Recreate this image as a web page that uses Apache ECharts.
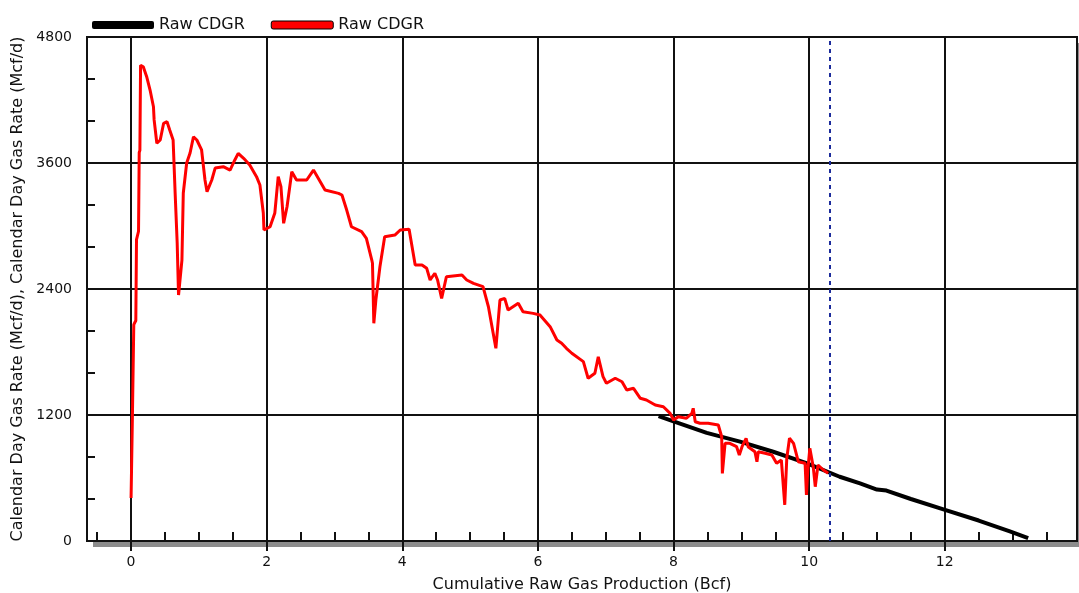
<!DOCTYPE html>
<html>
<head>
<meta charset="utf-8">
<title>Raw CDGR</title>
<script src="https://cdn.jsdelivr.net/npm/echarts@6/dist/echarts.min.js"></script>
<style>
  html, body { margin: 0; padding: 0; background: #fff; }
  #chart { width: 1079px; height: 593px; }
</style>
</head>
<body>
<div id="chart"></div>
<script>
// red history, cumulative Bcf vs Mcf/d
const redX = [0.00, 0.02, 0.04, 0.07, 0.08, 0.11, 0.12, 0.13, 0.14, 0.18, 0.23, 0.28, 0.33, 0.34, 0.38, 0.43,
  0.48, 0.53, 0.57, 0.62, 0.65, 0.68, 0.70, 0.72, 0.75, 0.77, 0.82, 0.87, 0.92, 0.97, 1.04, 1.09, 1.12,
  1.19, 1.24, 1.36, 1.46, 1.53, 1.58, 1.66, 1.75, 1.85, 1.90, 1.95, 1.96, 2.05, 2.12, 2.17, 2.21, 2.25,
  2.30, 2.37, 2.44, 2.59, 2.69, 2.79, 2.86, 3.06, 3.11, 3.18, 3.25, 3.40, 3.47, 3.55, 3.56, 3.58, 3.61,
  3.67, 3.74, 3.89, 3.97, 4.10, 4.19, 4.29, 4.36, 4.41, 4.48, 4.52, 4.58, 4.65, 4.88, 4.95, 5.05, 5.19,
  5.27, 5.34, 5.38, 5.44, 5.51, 5.56, 5.71, 5.78, 5.93, 6.03, 6.18, 6.28, 6.35, 6.42, 6.50, 6.67, 6.74,
  6.84, 6.89, 6.96, 7.01, 7.14, 7.24, 7.31, 7.41, 7.51, 7.60, 7.73, 7.85, 7.95, 8.00, 8.07, 8.19, 8.27,
  8.29, 8.32, 8.39, 8.51, 8.66, 8.71, 8.72, 8.76, 8.83, 8.93, 8.97, 9.01, 9.07, 9.10, 9.20, 9.23, 9.25,
  9.35, 9.45, 9.52, 9.59, 9.64, 9.67, 9.71, 9.77, 9.84, 9.94, 9.96, 9.98, 10.01, 10.06, 10.09, 10.13,
  10.21, 10.28];
const redY = [410, 1200, 2060, 2100, 2870, 2950, 3700, 3720, 4530, 4517, 4422, 4295, 4136, 4010, 3788, 3819,
  3978, 3993, 3914, 3819, 3311, 2838, 2343, 2362, 2676, 3314, 3600, 3695, 3850, 3819, 3724, 3438, 3327,
  3438, 3552, 3565, 3533, 3629, 3692, 3645, 3581, 3470, 3391, 3124, 2962, 2993, 3124, 3470, 3374, 3026,
  3184, 3517, 3438, 3438, 3533, 3422, 3343, 3311, 3295, 3152, 2993, 2946, 2883, 2676, 2645, 2073, 2295,
  2612, 2898, 2914, 2962, 2969, 2629, 2629, 2597, 2486, 2550, 2486, 2311, 2517, 2533, 2486, 2454, 2422,
  2231, 1978, 1835, 2295, 2311, 2200, 2264, 2184, 2168, 2152, 2041, 1914, 1883, 1835, 1788, 1708, 1550,
  1597, 1755, 1565, 1502, 1550, 1517, 1438, 1454, 1359, 1343, 1295, 1279, 1216, 1152, 1184, 1169, 1216,
  1264, 1136, 1121, 1121, 1105, 993, 644, 930, 930, 898, 819, 898, 978, 898, 850, 755, 850,
  835, 819, 740, 771, 343, 788, 978, 930, 755, 740, 438, 676, 883, 708, 517, 724,
  676, 645];

// black trend
const blackX = [7.78, 8.00, 8.49, 8.98, 9.47, 9.96, 10.45, 10.75, 11.00, 11.14, 11.50, 11.98, 12.50, 12.96, 13.23];
const blackY = [1190, 1140, 1030, 946, 850, 742, 612, 548, 490, 480, 400, 302, 195, 92, 28];

const markerX = 10.31;
const legendNames = ['Raw CDGR', 'Raw CDGR'];
const yTicks = [0, 1200, 2400, 3600, 4800];
const xTicks = [0, 2, 4, 6, 8, 10, 12];

const X_MIN = -0.65;
const X_MAX = 13.95;
const Y_MIN = yTicks[0];
const Y_MAX = yTicks[yTicks.length - 1];

const FONT = "'DejaVu Sans', sans-serif";
const INK = '#111';

// plot frame in px
const W = 1079;
const H = 593;
const G_LEFT = 87;
const G_RIGHT = 2;
const G_TOP = 37;
const G_BOTTOM = 52;
const SHADOW = 6;
const pxPerUnit = (W - G_LEFT - G_RIGHT) / (X_MAX - X_MIN);

function zip(xs, ys) {
  return xs.map((x, i) => [x, ys[i]]);
}

const chart = echarts.init(document.getElementById('chart'));

// fixed boxes, no auto-shrinking for names/labels
const frame = { top: G_TOP, bottom: G_BOTTOM, outerBoundsMode: 'none', containLabel: false };
chart.setOption({
  animation: false,
  backgroundColor: '#fff',
  textStyle: { fontFamily: FONT, color: INK },
  graphic: [{
    type: 'rect',
    z: -10,
    silent: true,
    shape: {
      x: G_LEFT + SHADOW,
      y: G_TOP + SHADOW,
      width: W - G_LEFT - G_RIGHT,
      height: H - G_TOP - G_BOTTOM,
    },
    style: { fill: '#8c8c8c' },
  }],
  legend: {
    left: G_LEFT,
    top: 12,
    icon: 'roundRect',
    itemWidth: 62,
    itemHeight: 8,
    itemGap: 26,
    textStyle: { fontFamily: FONT, fontSize: 16, color: INK },
    formatter: name => (name === 'black' ? legendNames[0] : legendNames[1]),
    data: [
      { name: 'black' },
      { name: 'red', itemStyle: { borderColor: '#000', borderWidth: 1 } },
    ],
  },
  grid: [
    {
      left: G_LEFT, right: G_RIGHT, ...frame,
      show: true,
      backgroundColor: '#fff',
      borderColor: INK,
      borderWidth: 2,
    },
    // minor x ticks, every 0.5
    { left: G_LEFT + (-0.5 - X_MIN) * pxPerUnit, right: G_RIGHT - (14 - X_MAX) * pxPerUnit, ...frame },
    // major x ticks, labels and grid lines
    { left: G_LEFT + (0 - X_MIN) * pxPerUnit, right: G_RIGHT - (14 - X_MAX) * pxPerUnit, ...frame },
  ],
  xAxis: [
    {
      type: 'value',
      gridIndex: 0,
      min: X_MIN,
      max: X_MAX,
      name: 'Cumulative Raw Gas Production (Bcf)',
      nameLocation: 'middle',
      nameGap: 36,
      nameTextStyle: { fontFamily: FONT, fontSize: 16, color: INK },
      axisLine: { lineStyle: { color: INK, width: 2 } },
      axisTick: { show: false },
      axisLabel: { show: false },
      splitLine: { show: false },
    },
    {
      type: 'value',
      gridIndex: 1,
      min: -0.5,
      max: 14,
      interval: 0.5,
      axisLine: { show: false },
      axisTick: { inside: true, length: 9, lineStyle: { color: INK, width: 2 } },
      axisLabel: { show: false },
      splitLine: { show: false },
    },
    {
      type: 'value',
      gridIndex: 2,
      min: xTicks[0],
      max: 14,
      interval: xTicks[1] - xTicks[0],
      axisLine: { show: false },
      axisTick: { length: 10, lineStyle: { color: INK, width: 2 } },
      axisLabel: {
        margin: 14,
        fontFamily: FONT,
        fontSize: 14,
        color: INK,
        formatter: v => (xTicks.indexOf(v) >= 0 ? String(v) : ''),
      },
      splitLine: { lineStyle: { color: INK, width: 2 } },
    },
  ],
  yAxis: [
    {
      type: 'value',
      gridIndex: 0,
      position: 'left',
      min: Y_MIN,
      max: Y_MAX,
      interval: yTicks[1] - yTicks[0],
      name: 'Calendar Day Gas Rate (Mcf/d), Calendar Day Gas Rate (Mcf/d)',
      nameLocation: 'middle',
      nameGap: 55,
      nameTextStyle: { fontFamily: FONT, fontSize: 16, color: INK },
      axisLine: { show: true, lineStyle: { color: INK, width: 2 } },
      axisTick: { show: true, length: 8, lineStyle: { color: INK, width: 2 } },
      axisLabel: { margin: 15, fontFamily: FONT, fontSize: 14, color: INK, formatter: v => String(v) },
      splitLine: { lineStyle: { color: INK, width: 2 } },
    },
    {
      type: 'value',
      gridIndex: 0,
      position: 'left',
      min: Y_MIN,
      max: Y_MAX,
      interval: 400,
      axisLine: { show: false },
      axisTick: { show: true, inside: true, length: 8, lineStyle: { color: INK, width: 2 } },
      axisLabel: { show: false },
      splitLine: { show: false },
    },
    { type: 'value', gridIndex: 1, show: false, min: Y_MIN, max: Y_MAX },
    { type: 'value', gridIndex: 2, show: false, min: Y_MIN, max: Y_MAX },
  ],
  series: [
    {
      name: 'black',
      type: 'line',
      xAxisIndex: 0,
      yAxisIndex: 0,
      data: zip(blackX, blackY),
      showSymbol: false,
      color: '#000',
      lineStyle: { color: '#000', width: 4 },
    },
    {
      name: 'red',
      type: 'line',
      xAxisIndex: 0,
      yAxisIndex: 0,
      data: zip(redX, redY),
      showSymbol: false,
      color: '#ff0000',
      lineStyle: { color: '#ff0000', width: 3 },
      markLine: {
        silent: true,
        symbol: ['none', 'none'],
        label: { show: false },
        lineStyle: { color: '#1c2c9c', type: [4, 4], width: 2 },
        data: [{ xAxis: markerX }],
      },
    },
  ],
});
</script>
</body>
</html>
